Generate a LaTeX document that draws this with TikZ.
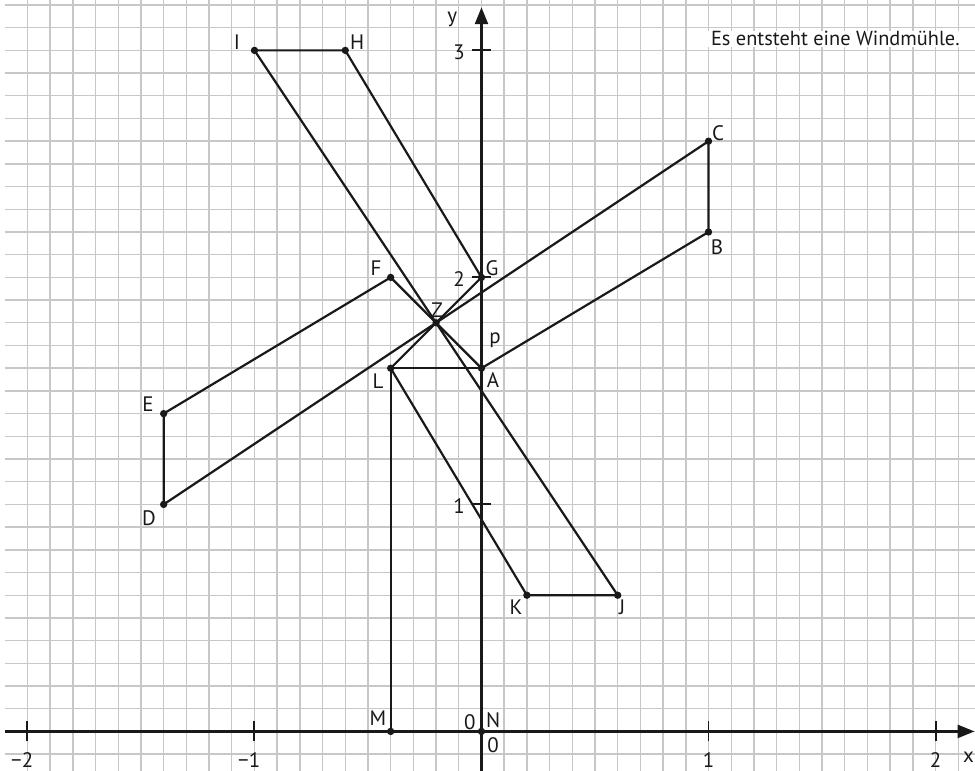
\documentclass[tikz,border=0pt]{standalone}
\usepackage{fontspec}
\setmainfont{PT Sans}
\usetikzlibrary{positioning,arrows.meta}
\tikzset{
	gridline/.style={draw=black!22, line width=0.7pt},
	axis/.style={-{Triangle[length=8.5pt,width=6.5pt]}, draw=black!90, line width=1.3pt},
	blade/.style={draw=black!90, line width=1.1pt, line join=round},
	dot/.style={circle, fill=black!90, inner sep=0pt, minimum size=3.7pt},
	lbl/.style={inner sep=0pt, font=\fontsize{10.5}{12}\selectfont, text=black!90}
}

\begin{document}
\begin{tikzpicture}[x=4cm, y=4cm,
				tick/.style={draw=black!90, line width=1pt},
				note/.style={fill=white, inner xsep=3.5pt, inner ysep=0.4pt, text depth=0pt,
					font=\fontsize{10.2}{12}\selectfont, text=black!90}
				]
				
				\useasboundingbox (-2.121,-0.174) rectangle (2.174,3.222);
				\begin{scope}
					\clip (-2.1001,-0.174) rectangle (2.174,3.222);
					\draw[gridline] (-2.1001,-0.3) grid[step=0.1] (2.3,3.3);
				\end{scope}
				
				\node[note, anchor=base east] (title) at (2.139,3.02) {Es entsteht eine Windmühle.};
				
				\coordinate (xl) at (-2.1,0);
				\coordinate (xr) at (2.172,0);
				\coordinate (yb) at (0,-0.18);
				\coordinate (yt) at (0,3.19);
				\draw[axis] (xl) -- (xr);
				\draw[axis] (yb) -- (yt);
				
				\foreach \x/\t in {-2/\llap{−}2, -1/\llap{−}1, 1/1, 2/2} {
					\draw[tick] (\x,-0.044) -- (\x,0.044);
					\node[lbl] (tx\x) at (\x,-0.127) {\t};
				}
				\foreach \y in {1,2,3} {
					\draw[tick] (-0.04,\y) -- (0.04,\y);
					\node[lbl] (ty\y) at (-0.099,\y-0.009) {\y};
				}
				\node[lbl] (ylab) at ([shift={(-14.6pt,-6pt)}]yt) {y};
				\node[lbl] (xlab) at ([shift={(-3pt,-13pt)}]xr) {x};
				
				\coordinate (Z) at (-0.2,1.8);
				\coordinate (A) at (0,1.6);
				\coordinate (B) at (1,2.2);
				\coordinate (C) at (1,2.6);
				\coordinate (D) at (-1.4,1);
				\coordinate (E) at (-1.4,1.4);
				\coordinate (F) at (-0.4,2);
				\coordinate (G) at (0,2);
				\coordinate (H) at (-0.6,3);
				\coordinate (I) at (-1,3);
				\coordinate (J) at (0.6,0.6);
				\coordinate (K) at (0.2,0.6);
				\coordinate (L) at (-0.4,1.6);
				\coordinate (M) at (-0.4,0);
				\coordinate (N) at (0,0);
				
				\draw[blade] (Z) -- (A) -- (B) -- (C) -- cycle;
				\draw[blade] (Z) -- (G) -- (H) -- (I) -- cycle;
				\draw[blade] (Z) -- (F) -- (E) -- (D) -- cycle;
				\draw[blade] (Z) -- (L) -- (K) -- (J) -- cycle;
				\draw[blade] (A) -- (L) -- (M) -- (N);
				
				\foreach \p in {A,B,C,D,E,F,G,H,I,J,K,L,M,N,Z}
					\node[dot] (d\p) at (\p) {};
				
				\node[lbl] (lA) at ([shift={(5.8pt,-5.8pt)}]A) {A};
				\node[lbl] (lB) at ([shift={(4.3pt,-7.5pt)}]B) {B};
				\node[lbl] (lC) at ([shift={(4.8pt,4pt)}]C) {C};
				\node[lbl] (lD) at ([shift={(-7.4pt,-6.8pt)}]D) {D};
				\node[lbl] (lE) at ([shift={(-7.9pt,4.9pt)}]E) {E};
				\node[lbl] (lF) at ([shift={(-7.4pt,4.8pt)}]F) {F};
				\node[lbl] (lG) at ([shift={(5.3pt,4.8pt)}]G) {G};
				\node[lbl] (lH) at ([shift={(5.9pt,4.3pt)}]H) {H};
				\node[lbl] (lI) at ([shift={(-8.8pt,4.3pt)}]I) {I};
				\node[lbl] (lJ) at ([shift={(2.2pt,-5.9pt)}]J) {J};
				\node[lbl] (lK) at ([shift={(-5.5pt,-5.9pt)}]K) {K};
				\node[lbl] (lL) at ([shift={(-6.4pt,-6.4pt)}]L) {L};
				\node[lbl] (lM) at ([shift={(-6.4pt,6.8pt)}]M) {M};
				\node[lbl] (lN) at ([shift={(5.8pt,5.8pt)}]N) {N};
				\node[lbl] (lZ) at ([shift={(0.5pt,6.5pt)}]Z) {Z};
				\node[lbl] (lp) at ([shift={(6.8pt,14.2pt)}]A) {p};
				\node[lbl] (zy) at ([shift={(-5.8pt,4.8pt)}]N) {0};
				\node[lbl] (zx) at ([shift={(5.8pt,-6.8pt)}]N) {0};
				
			\end{tikzpicture}
\end{document}
